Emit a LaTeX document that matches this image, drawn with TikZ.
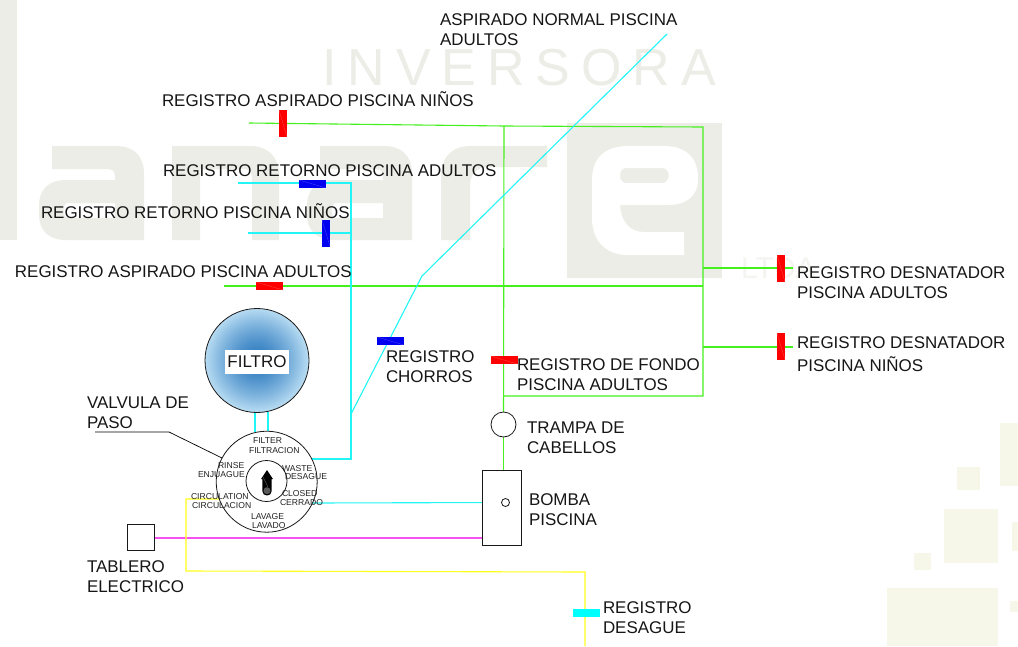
\documentclass[tikz,border=0pt]{standalone}
\usepackage{fontspec}
\setmainfont{Liberation Sans}
\newfontfamily\wmfont[LetterSpace=21]{Liberation Sans}
\usetikzlibrary{calc}
\pgfdeclarelayer{wm}
\pgfdeclarelayer{conn}
\pgfsetlayers{wm,conn,main}
\definecolor{wmgrey}{HTML}{ECEDE6}
\definecolor{wmlight}{HTML}{F4F5F0}
\definecolor{wmpale}{HTML}{F6F7E9}
\definecolor{pipeg}{HTML}{44F01E}
\definecolor{pipec}{HTML}{22F5F5}
\definecolor{pipey}{HTML}{FFFF1E}
\definecolor{pipem}{HTML}{F552F0}
\definecolor{ink}{HTML}{161616}
\definecolor{purecyan}{HTML}{00FFFF}
\definecolor{purered}{HTML}{FF0000}
\definecolor{pureblue}{HTML}{0000F0}
\definecolor{filtercore}{HTML}{2C7ABF}
\definecolor{filteredge}{HTML}{B8DCF3}
\tikzset{
  wmfill/.style={fill=wmgrey,draw=none},
  wmsq/.style={fill=wmpale,draw=none},
  lbl/.style={anchor=base west,inner sep=0pt,outer sep=0pt,align=left,text=ink,font=\fontsize{16.95}{20}\selectfont},
  small/.style={anchor=base west,inner sep=0pt,outer sep=0pt,text=ink!95,font=\fontsize{8.6}{10}\selectfont},
  green pipe/.style={draw=pipeg,line width=1.1pt},
  cyan pipe/.style={draw=pipec,line width=1.1pt},
  yellow pipe/.style={draw=pipey,line width=1.1pt},
  magenta pipe/.style={draw=pipem,line width=1.3pt},
  outline/.style={draw=black!90,line width=0.8pt,fill=white,inner sep=0pt,outer sep=0pt},
  valve/.style={draw=none,fill=#1,inner sep=0pt,outer sep=0pt,
    path picture={\draw[white,opacity=.3,line width=.3pt]
      (path picture bounding box.north west) -- (path picture bounding box.south east);}},
  upright/.style={minimum width=8pt,minimum height=27pt},
  flat/.style={minimum width=27pt,minimum height=8pt},
}
\begin{document}
\begin{tikzpicture}[x=1pt,y=-1pt]
\useasboundingbox (0,0) rectangle (1018,646);
\begin{pgfonlayer}{wm}
  \fill[white] (0,0) rectangle (1018,646);
  % letter l
  \fill[wmfill] (0,0) rectangle (17,240);
  % letter a (first)
  \fill[wmfill,even odd rule]
    (52,146) -- (116,146) .. controls (134,146) and (144,156) .. (144,174) -- (144,240) -- (66,240)
    .. controls (48,240) and (39,230) .. (39,214) -- (39,206)
    .. controls (39,190) and (48,180) .. (66,180) -- (115,180) -- (115,176)
    .. controls (115,171) and (112,169) .. (107,169) -- (52,169) -- cycle
    (68,203) -- (115,203) -- (115,218) -- (68,218) .. controls (62,218) and (62,203) .. (68,203) -- cycle;
  % letter n
  \fill[wmfill]
    (172,146) -- (250,146) .. controls (268,146) and (279,157) .. (279,175) -- (279,240) -- (252,240) -- (252,178)
    .. controls (252,172) and (249,169) .. (243,169) -- (200,169) -- (200,240) -- (172,240) -- cycle;
  % letter a (second)
  \fill[wmfill,even odd rule]
    (320,146) -- (384,146) .. controls (402,146) and (412,156) .. (412,174) -- (412,240) -- (334,240)
    .. controls (316,240) and (307,230) .. (307,214) -- (307,206)
    .. controls (307,190) and (316,180) .. (334,180) -- (383,180) -- (383,176)
    .. controls (383,171) and (380,169) .. (375,169) -- (320,169) -- cycle
    (336,203) -- (383,203) -- (383,218) -- (336,218) .. controls (330,218) and (330,203) .. (336,203) -- cycle;
  % letter r
  \fill[wmfill]
    (441,240) -- (441,176) .. controls (441,157) and (452,146) .. (471,146) -- (547,146) -- (547,167) -- (489,167)
    .. controls (476,167) and (470,174) .. (470,186) -- (470,240) -- cycle;
  % letter e, reversed out of a square
  \fill[wmfill] (567,123) rectangle (722,278);
  \fill[white,even odd rule]
    (684,255) -- (628,255) .. controls (605,255) and (592,240) .. (592,218) -- (592,180)
    .. controls (592,158) and (605,146) .. (628,146) -- (664,146)
    .. controls (686,146) and (698,158) .. (698,178) -- (698,180)
    .. controls (698,196) and (686,205) .. (668,205) -- (620,205)
    .. controls (621,222) and (630,232) .. (644,232) -- (684,232) -- cycle
    (626,168) -- (662,168) .. controls (671,168) and (671,183) .. (662,183) -- (626,183)
    .. controls (618,183) and (618,168) .. (626,168) -- cycle;
  \node[anchor=base west,inner sep=0pt,text=wmgrey,font=\fontsize{52}{52}\selectfont] (wmInversora) at (322,85) {\wmfont INVERSORA};
  \node[anchor=base west,inner sep=0pt,text=wmlight,font=\fontsize{30}{30}\selectfont] (wmLtda) at (741,278) {LTDA};
  % pale squares
  \fill[wmsq] (1000,423) rectangle (1018,486);
  \fill[wmsq] (957,467) rectangle (980,490);
  \fill[wmsq] (944,509) rectangle (998,563);
  \fill[wmsq] (1012,522) rectangle (1018,551);
  \fill[wmsq] (914,553) rectangle (931,570);
  \fill[wmsq] (887,588) rectangle (998,646);
  \fill[wmsq] (1010,601) rectangle (1018,612);
\end{pgfonlayer}

% main equipment
\node[circle,minimum size=104pt,inner sep=0pt,outer sep=0pt] (filtro) at (257,360.5) {};
\foreach \r in {52,51,...,1}{
  \pgfmathsetmacro{\mixval}{100*(\r/52)^1.4}
  \fill[filteredge!\mixval!filtercore] (filtro.center) circle[radius=\r];
}
\draw[black!90,line width=0.8pt] (filtro.center) circle[radius=52];
\node[fill=white,minimum width=64pt,minimum height=24pt,inner sep=0pt,font=\fontsize{16.95}{18}\selectfont,text=ink] (filtroText) at (257,362) {FILTRO};
\node[circle,outline,minimum size=101pt] (valvula) at (266.7,481.7) {};
\node[circle,outline,minimum size=41pt] (selector) at (266.5,481) {};
\node[circle,outline,minimum size=25pt] (trampa) at (503.5,424.5) {};
\node[rectangle,outline,minimum width=39pt,minimum height=75pt] (bomba) at (501.5,507.5) {};
\node[circle,outline,minimum size=8pt] (eje) at (505.5,502.5) {};
\node[rectangle,outline,minimum width=27pt,minimum height=26pt] (tablero) at (140.5,537) {};

% selector handle
\fill[black] (267,470) -- (273,479) -- (271.7,479) -- (271.7,491)
  .. controls (271.7,497) and (262.3,497) .. (262.3,491) -- (262.3,479) -- (261,479) -- cycle;
\fill[black!65] (267,490.7) circle[radius=3.5];
\draw[black!55,line width=.3pt] (263,477) -- (268,487);

% junctions and free ends
\coordinate (aN) at (249,123);
\coordinate (jTop) at (504,126);
\coordinate (cTop) at (703,127);
\coordinate (jSkimA) at (703,268);
\coordinate (jAsp) at (703,286);
\coordinate (jSkimN) at (703,347);
\coordinate (cLow) at (703,396);
\coordinate (jLow) at (504,396);
\coordinate (aA) at (224,286);
\coordinate (skA) at (793,268);
\coordinate (skN) at (793,347);
\coordinate (rA) at (238,183);
\coordinate (rCorner) at (351,183);
\coordinate (rN) at (248,233);
\coordinate (rJ) at (351,233);
\coordinate (rBot) at (351,459);
\coordinate (rVal) at (312,459);
\coordinate (chA) at (351,414);
\coordinate (chK) at (422,276);
\coordinate (chE) at (667,34);
\coordinate (f1a) at (255,412); \coordinate (f1b) at (255,432);
\coordinate (f2a) at (268,412); \coordinate (f2b) at (268,431);
\coordinate (pV) at (312,503);
\coordinate (yV) at (220,499);
\coordinate (yA) at (186,499);
\coordinate (yB) at (186,571);
\coordinate (yC) at (585,572);
\coordinate (yD) at (585,646);
\coordinate (lead0) at (95,432);
\coordinate (lead1) at (169,432);
\coordinate (lead2) at (222,458);

% registers
\node[valve=purered,upright] (vAspN) at (283,123.5) {};
\node[valve=purered,flat] (vAspA) at (269.5,286) {};
\node[valve=pureblue,flat] (vRetA) at (312.5,184) {};
\node[valve=pureblue,upright] (vRetN) at (326,233) {};
\node[valve=pureblue,flat] (vCho) at (390.5,341) {};
\node[valve=purered,flat] (vFondo) at (504,360) {};
\node[valve=purered,upright] (vSkA) at (781,268.5) {};
\node[valve=purered,upright] (vSkN) at (781,346.5) {};
\node[draw=none,fill=purecyan,inner sep=0pt,flat] (vDes) at (586,613) {};

% connectors
\begin{pgfonlayer}{conn}
  \draw[green pipe] (aN) -- (jTop) -- (cTop) -- (cLow) -- (jLow);
  \draw[green pipe] (jTop) -- (trampa);
  \draw[green pipe] (trampa) -- (trampa |- bomba.north);
  \draw[green pipe] (aA) -- (jAsp);
  \draw[green pipe] (jSkimA) -- (skA);
  \draw[green pipe,line width=1.4pt] (jSkimN) -- (skN);
  \draw[cyan pipe] (rA) -- (rCorner) -- (rBot) -- (rVal);
  \draw[cyan pipe,line width=1.4pt] (rN) -- (rJ);
  \draw[cyan pipe] (chA) -- (chK) -- (chE);
  \draw[cyan pipe,line width=1.4pt] (f1a) -- (f1b);
  \draw[cyan pipe,line width=1.4pt] (f2a) -- (f2b);
  \draw[cyan pipe] (pV) -- (eje);
  \draw[magenta pipe] (tablero.east |- 0,538) -- (bomba.west |- 0,538);
  \draw[yellow pipe] (yV) -- (yA) -- (yB) -- (yC) -- (yD);
\end{pgfonlayer}
\draw[black,line width=0.7pt] (lead0) -- (lead1) -- (lead2);

% labels
\node[lbl] (tAspNormal) at (440,45) {ASPIRADO NORMAL PISCINA\\ADULTOS};
\node[lbl] (tAspN) at (162,106) {REGISTRO ASPIRADO PISCINA NIÑOS};
\node[lbl] (tRetA) at (163,176) {REGISTRO RETORNO PISCINA ADULTOS};
\node[lbl] (tRetN) at (41,218) {REGISTRO RETORNO PISCINA NIÑOS};
\node[lbl] (tAspA) at (15,277) {REGISTRO ASPIRADO PISCINA ADULTOS};
\node[lbl] (tSkA) at (797,298) {REGISTRO DESNATADOR\\PISCINA ADULTOS};
\node[lbl] (tSkN) at (797,371) {REGISTRO DESNATADOR\\[3pt]PISCINA NIÑOS};
\node[lbl] (tFondo) at (517,390) {REGISTRO DE FONDO\\PISCINA ADULTOS};
\node[lbl] (tCho) at (386,382) {REGISTRO\\CHORROS};
\node[lbl] (tTrampa) at (527,453) {TRAMPA DE\\CABELLOS};
\node[lbl] (tBomba) at (529,525) {BOMBA\\PISCINA};
\node[lbl] (tDes) at (603,633) {REGISTRO\\DESAGUE};
\node[lbl] (tTab) at (87,592) {TABLERO\\ELECTRICO};
\node[lbl] (tVal) at (87,428) {VALVULA DE\\PASO};
\node[small] (s1) at (253,443) {FILTER};
\node[small] (s2) at (249,453) {FILTRACION};
\node[small] (s3) at (218,468) {RINSE};
\node[small] (s4) at (198,477) {ENJUAGUE};
\node[small] (s5) at (282,471) {WASTE};
\node[small] (s6) at (285,479) {DESAGUE};
\node[small] (s7) at (282,496) {CLOSED};
\node[small] (s8) at (280,505) {CERRADO};
\node[small] (s9) at (191,499) {CIRCULATION};
\node[small] (s10) at (192,508) {CIRCULACION};
\node[small] (s11) at (251,519) {LAVAGE};
\node[small] (s12) at (252,528) {LAVADO};
\end{tikzpicture}
\end{document}
